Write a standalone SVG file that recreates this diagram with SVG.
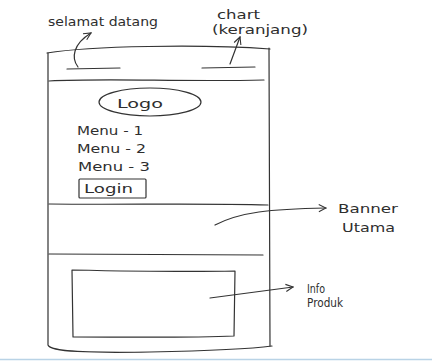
<svg xmlns="http://www.w3.org/2000/svg" width="432" height="362" viewBox="0 0 432 362">
<style>
.ln{fill:none;stroke:#333333;stroke-width:1.2;stroke-linecap:round;stroke-linejoin:round}
.t{font-family:"DejaVu Sans","Liberation Sans",sans-serif;fill:#2e2e2e;font-size:13px}
</style>
<defs>
<marker id="ah" viewBox="0 0 10 10" refX="9" refY="5" markerWidth="9" markerHeight="9" markerUnits="userSpaceOnUse" orient="auto">
<path d="M1,1 L9,5 L1,9" fill="none" stroke="#333333" stroke-width="1.2"/>
</marker>
</defs>
<rect width="432" height="362" fill="#ffffff"/>
<g id="frame">
<path class="ln" d="M47,53 C90,46 200,44 270,49"/>
<path class="ln" d="M48,53 L48,345 C50,352 90,353 150,352 C200,351 250,349 272,346"/>
<path class="ln" d="M269,48 L270,346"/>
<path class="ln" d="M49,81 C110,78 180,82 264,80"/>
<path class="ln" d="M49,204 C120,205 200,203 268,205"/>
<path class="ln" d="M49,254 C130,255 200,255 263,255"/>
</g>
<g id="header">
<path class="ln" d="M67,69 L120,68"/>
<path class="ln" d="M202,68 L255,67"/>
</g>
<g id="selamat-datang">
<text class="t" x="48" y="26" font-size="12" textLength="110" lengthAdjust="spacingAndGlyphs">selamat datang</text>
</g>
<g id="chart">
<text class="t" x="217" y="19" font-size="11" textLength="43" lengthAdjust="spacingAndGlyphs">chart</text>
<text class="t" x="212" y="33.5" font-size="11" textLength="96" lengthAdjust="spacingAndGlyphs">(keranjang)</text>
</g>
<g id="logo">
<ellipse class="ln" cx="150" cy="102" rx="51" ry="14"/>
<text class="t" x="117" y="108" font-size="14" textLength="46" lengthAdjust="spacingAndGlyphs">Logo</text>
</g>
<g id="menu">
<text class="t" x="77" y="135" textLength="66" lengthAdjust="spacingAndGlyphs">Menu - 1</text>
<text class="t" x="77" y="153" textLength="69" lengthAdjust="spacingAndGlyphs">Menu - 2</text>
<text class="t" x="78" y="171" textLength="72" lengthAdjust="spacingAndGlyphs">Menu - 3</text>
</g>
<g id="login">
<rect class="ln" x="79" y="179" width="67" height="19" rx="1"/>
<text class="t" x="84" y="193" textLength="49" lengthAdjust="spacingAndGlyphs">Login</text>
</g>
<g id="info-box">
<path class="ln" d="M72,270 C120,271 190,272 235,271 L234,336 C190,338 120,337 73,337 Z"/>
</g>
<g id="banner-label">
<text class="t" x="338" y="213" textLength="60" lengthAdjust="spacingAndGlyphs">Banner</text>
<text class="t" x="342" y="232" textLength="53" lengthAdjust="spacingAndGlyphs">Utama</text>
</g>
<g id="info-label">
<text class="t" x="307" y="293" font-size="11" textLength="18" lengthAdjust="spacingAndGlyphs">Info</text>
<text class="t" x="307" y="307" font-size="11" textLength="36" lengthAdjust="spacingAndGlyphs">Produk</text>
</g>
<g id="connectors">
<path class="ln" d="M78,67 C71,58 73,44 91,33" marker-end="url(#ah)"/>
<path class="ln" d="M230,64 L240,37" marker-end="url(#ah)"/>
<path class="ln" d="M215,225 C240,212 270,209 326,208" marker-end="url(#ah)"/>
<path class="ln" d="M210,298 L293,287" marker-end="url(#ah)"/>
</g>
<line x1="0" y1="359.5" x2="432" y2="359.5" stroke="#b9d3e6" stroke-width="1.5"/>
</svg>
